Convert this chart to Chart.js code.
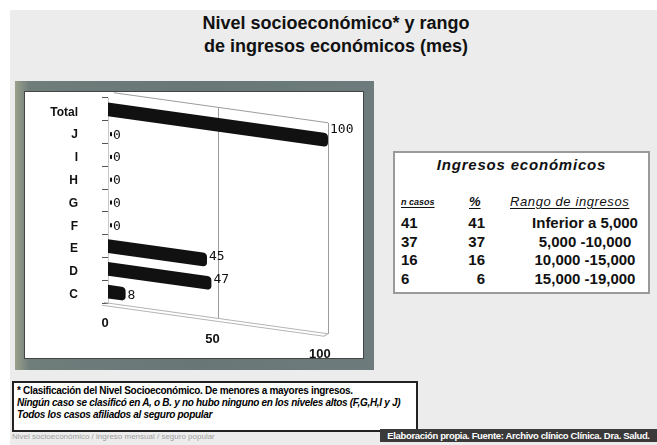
<!DOCTYPE html>
<html lang="es">
<head>
<meta charset="utf-8">
<script src="https://cdn.jsdelivr.net/npm/chart.js@4.4.1/dist/chart.umd.min.js"></script>
<style>
  html, body { margin: 0; padding: 0; }
  body { width: 657px; height: 445px; background: #fff; position: relative; overflow: hidden;
         font-family: "Liberation Sans", Arial, sans-serif; }
  #page { position: absolute; left: 10px; top: 10px; width: 647px; height: 435px; background: #ececec; }
  #titulo { position: absolute; left: 136px; top: 12px; width: 400px; text-align: center;
            font-weight: bold; font-size: 18px; line-height: 23px; color: #111; }
  #marco { position: absolute; left: 15px; top: 81px; width: 359px; height: 289px;
           background: linear-gradient(90deg, #9aa08a 0%, #6f7d7b 4%, #687776 50%, #6d7b7c 100%); }
  #interior { position: absolute; left: 24px; top: 91px; width: 340px; height: 268px;
              background: #fff; box-sizing: border-box; border: 1px solid #444; }
  #lienzo { position: absolute; left: 25px; top: 92px; width: 338px; height: 266px; }
  #tabla { position: absolute; left: 393px; top: 151px; width: 257px; height: 143px;
           background: #fff; box-sizing: border-box; border: 2px solid #9a9a9a; }
  #tabla .tt { position: absolute; left: 0; width: 253px; top: 3px; text-align: center;
               font-weight: bold; font-style: italic; font-size: 15px; letter-spacing: 0.8px; color: #111; }
  #tabla .h { position: absolute; top: 41px; font-style: italic; font-weight: bold; color: #111;
              text-decoration: underline; text-underline-offset: 2px; }
  #tabla .c { position: absolute; font-weight: bold; font-size: 15px; color: #111; line-height: 18px; }
  #nota { position: absolute; left: 12px; top: 381px; width: 406px; height: 51px; background: #fff;
          box-sizing: border-box; border: 2px solid #222; padding: 2px 3px; font-weight: bold;
          font-size: 10px; line-height: 12px; color: #000; letter-spacing: -0.3px; white-space: nowrap; }
  #nota i { font-style: italic; }
  #pie1 { position: absolute; left: 12px; top: 432px; font-size: 8px; color: #a0a0a0; white-space: nowrap; }
  #pie2 { position: absolute; left: 380px; top: 429px; width: 277px; height: 13px; background: #3a3a3a;
          color: #fff; font-weight: bold; font-size: 9.5px; line-height: 13px;
          text-align: center; letter-spacing: -0.35px; white-space: nowrap; }
</style>
</head>
<body>
<div id="page"></div>
<div id="titulo">Nivel socioeconómico* y rango<br>de ingresos económicos (mes)</div>
<div id="marco"></div>
<div id="interior"></div>
<canvas id="lienzo" width="338" height="266"></canvas>
<div id="tabla"></div>
<div id="nota">* Clasificación del Nivel Socioeconómico. De menores a mayores ingresos.<br>
<i>Ningún caso se clasificó en A, o B. y no hubo ninguno en los niveles altos (F,G,H,I y J)</i><br>
<i>Todos los casos afiliados al seguro popular</i></div>
<div id="pie1">Nivel socioeconómico / ingreso mensual / seguro popular</div>
<div id="pie2">Elaboración propia. Fuente: Archivo clínico Clínica. Dra. Salud.</div>
<script>
// Nivel socioeconómico (porcentaje de casos)
const categorias = ['Total', 'J', 'I', 'H', 'G', 'F', 'E', 'D', 'C'];
const porcentajes = [100, 0, 0, 0, 0, 0, 45, 47, 8];
const ticksX = [0, 50, 100];

// Tabla de ingresos económicos
const encabezados = ['n casos', '%', 'Rango de ingresos'];
const nCasos = [41, 37, 16, 6];
const pctCasos = [41, 37, 16, 6];
const rangos = ['Inferior a 5,000', '5,000 -10,000', '10,000 -15,000', '15,000 -19,000'];

// --- tabla ---
const tabla = document.getElementById('tabla');
let html = '<div class="tt">Ingresos económicos</div>';
html += `<div class="h" style="left:6px;font-size:9px;top:44px;width:50px">${encabezados[0]}</div>`;
html += `<div class="h" style="left:74px;font-size:13px">${encabezados[1]}</div>`;
html += `<div class="h" style="left:115px;font-size:13px;font-weight:normal;letter-spacing:0.6px">${encabezados[2]}</div>`;
nCasos.forEach((n, i) => {
  const top = 61 + i * 18.7;
  html += `<div class="c" style="left:6px;top:${top}px">${n}</div>`;
  html += `<div class="c" style="left:50px;width:40px;text-align:right;top:${top}px">${pctCasos[i]}</div>`;
  html += `<div class="c" style="left:110px;width:160px;text-align:center;top:${top}px">${rangos[i]}</div>`;
});
tabla.innerHTML = html;

// --- gráfica de barras en perspectiva ---
const INCL = 0.14;   // inclinación de la perspectiva

const perspectiva = {
  id: 'perspectiva',
  beforeDatasetsDraw(chart) {
    const { ctx, chartArea: a, scales: { x } } = chart;
    const x0 = x.getPixelForValue(0);
    ctx.save();
    ctx.transform(1, INCL, 0, 1, 0, -INCL * x0);
    // paredes y piso
    ctx.lineWidth = 1;
    ctx.strokeStyle = '#9c9c9c';
    ctx.beginPath();
    ctx.moveTo(x0 + 6, a.top - 6); ctx.lineTo(a.right, a.top - 6);
    ctx.stroke();
    ticksX.slice(1).forEach(v => {
      const px = x.getPixelForValue(v);
      ctx.beginPath();
      ctx.moveTo(px + 0.5, a.top - 6); ctx.lineTo(px + 0.5, a.bottom);
      ctx.stroke();
    });
    ctx.strokeStyle = '#b4b4b4';
    ctx.beginPath();
    ctx.moveTo(x0 - 4, a.bottom); ctx.lineTo(a.right, a.bottom);
    ctx.moveTo(x0 - 6, a.bottom + 3); ctx.lineTo(a.right - 4, a.bottom + 3);
    ctx.lineTo(a.right, a.bottom);
    ctx.stroke();
  },
  afterDatasetsDraw(chart) {
    const { ctx, chartArea: a, scales: { x } } = chart;
    ctx.restore();
    const x0 = x.getPixelForValue(0);
    // etiquetas de valor
    const meta = chart.getDatasetMeta(0);
    ctx.save();
    ctx.fillStyle = '#111';
    ctx.textBaseline = 'middle';
    ctx.textAlign = 'left';
    ctx.font = '13px "DejaVu Sans Mono", monospace';
    meta.data.forEach((bar, i) => {
      const v = porcentajes[i];
      const xe = x.getPixelForValue(v);
      const y = bar.y + 3 + 0.08 * (xe - x0);
      if (v === 0) {
        ctx.fillRect(xe + 2, y - 3, 2, 4);
        ctx.fillText(String(v), xe + 5, y);
      } else {
        ctx.fillText(String(v), xe + 2, y);
      }
    });
    // etiquetas del eje de valores
    ctx.font = 'bold 13px "Liberation Sans", Arial, sans-serif';
    ctx.textAlign = 'center';
    ticksX.forEach(v => {
      const px = x.getPixelForValue(v);
      const dx = px - x0;
      ctx.fillText(String(v), px - 3 - 0.023 * dx, a.bottom + 20 + 0.145 * dx);
    });
    ctx.restore();
  }
};

new Chart(document.getElementById('lienzo'), {
  type: 'bar',
  data: {
    labels: categorias,
    datasets: [{
      data: porcentajes,
      backgroundColor: '#111',
      borderWidth: 0,
      borderRadius: 4,
      borderSkipped: 'start',
      barPercentage: 0.6,
      categoryPercentage: 1,
      clip: false
    }]
  },
  options: {
    indexAxis: 'y',
    responsive: false,
    animation: false,
    events: [],
    layout: { padding: { top: 6, right: 35, bottom: 55, left: 0 } },
    plugins: { legend: { display: false }, tooltip: { enabled: false } },
    scales: {
      x: { display: false, min: 0, max: 100 },
      y: {
        afterFit(scale) { scale.width = 83; scale.paddingTop = 0; scale.paddingBottom = 0; },
        grid: { display: true, drawOnChartArea: false, offset: true, tickLength: 6, color: '#555', lineWidth: 1 },
        border: { display: true, color: '#c8c8c8' },
        ticks: {
          color: '#111', padding: 24, labelOffset: 3,
          font: { family: '"Liberation Sans", Arial, sans-serif', size: 12, weight: 'bold' }
        }
      }
    }
  },
  plugins: [perspectiva]
});
</script>
</body>
</html>
